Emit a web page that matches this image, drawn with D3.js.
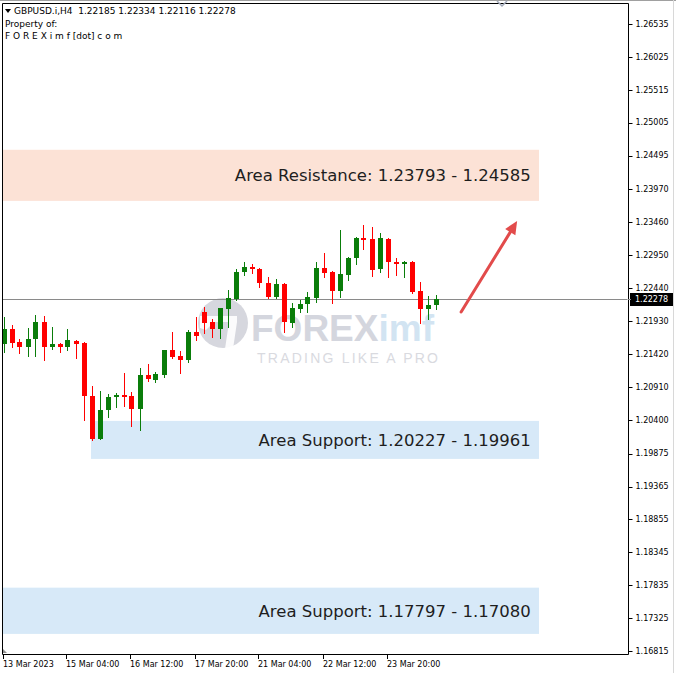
<!DOCTYPE html>
<html><head><meta charset="utf-8">
<script src="https://cdn.jsdelivr.net/npm/d3@7"></script>
<style>html,body{margin:0;padding:0;background:#fff;overflow:hidden}svg{display:block}</style>
</head><body><svg id="c" width="676" height="673"></svg>
<script>
// ---- data ----
const opens  = [1.21575,1.21808,1.21606,1.21529,1.21653,1.21916,1.21529,1.21575,1.21529,1.21622,1.21591,1.20769,1.20103,1.20552,1.20754,1.20785,1.20769,1.20568,1.21095,1.21017,1.21095,1.21482,1.21389,1.21327,1.21761,1.22071,1.21916,1.21808,1.22118,1.22273,1.22691,1.22769,1.22738,1.22521,1.22304,1.22505,1.21901,1.22118,1.22195,1.22288,1.22753,1.22691,1.22397,1.22645,1.22908,1.23218,1.23203,1.22738,1.23203,1.22846,1.22815,1.22846,1.22397,1.22118,1.22185];
const highs  = [1.21994,1.21870,1.21653,1.21823,1.22025,1.22009,1.21839,1.21591,1.21808,1.21637,1.21606,1.20924,1.20847,1.20800,1.20816,1.21126,1.20831,1.21203,1.21265,1.21141,1.21482,1.21761,1.21467,1.21792,1.21994,1.22149,1.21963,1.22133,1.22412,1.22738,1.22846,1.22815,1.22753,1.22614,1.22583,1.22521,1.22211,1.22257,1.22381,1.22846,1.22986,1.22707,1.23342,1.22924,1.23234,1.23420,1.23389,1.23296,1.23218,1.22908,1.22862,1.22862,1.22536,1.22319,1.22334];
const lows   = [1.21451,1.21529,1.21436,1.21389,1.21389,1.21327,1.21498,1.21451,1.21482,1.21358,1.20397,1.20087,1.20095,1.20444,1.20599,1.20614,1.20304,1.20242,1.21002,1.20986,1.21064,1.21358,1.21126,1.21296,1.21637,1.21746,1.21684,1.21668,1.21839,1.22257,1.22645,1.22676,1.22459,1.22288,1.22288,1.21761,1.21839,1.22071,1.22071,1.22226,1.22614,1.22211,1.22304,1.22567,1.22815,1.23048,1.22629,1.22691,1.22614,1.22645,1.22614,1.22366,1.21901,1.21963,1.22116];
const closes = [1.21808,1.21591,1.21529,1.21653,1.21916,1.21529,1.21575,1.21529,1.21637,1.21575,1.20769,1.20103,1.20552,1.20754,1.20785,1.20754,1.20568,1.21095,1.21033,1.21110,1.21482,1.21374,1.21327,1.21761,1.21699,1.21901,1.21808,1.22133,1.22288,1.22691,1.22769,1.22738,1.22521,1.22304,1.22505,1.21916,1.22133,1.22195,1.22304,1.22753,1.22676,1.22397,1.22660,1.22908,1.23218,1.23187,1.22722,1.23218,1.22846,1.22815,1.22846,1.22381,1.22118,1.22180,1.22278];

const dateLabels   = ["13 Mar 2023","15 Mar 04:00","16 Mar 12:00","17 Mar 20:00","21 Mar 04:00","22 Mar 12:00","23 Mar 20:00"];
const dateLabelBar = [0,8,16,24,32,40,48];
const priceTicks = [1.26535,1.26025,1.25515,1.25005,1.24495,1.23970,1.23460,1.22950,1.22440,1.21930,1.21420,1.20910,1.20400,1.19875,1.19365,1.18855,1.18345,1.17835,1.17325,1.16815];
const lastPrice = 1.22278;

const zoneLabels = ["Area Resistance: 1.23793 - 1.24585","Area Support: 1.20227 - 1.19961","Area Support: 1.17797 - 1.17080"];
const zoneLow    = [1.23793,1.19793,1.17080];
const zoneHigh   = [1.24585,1.20382,1.17797];
const zoneFrom   = [-1,10.94,-1];
const zoneTo     = [66.94,66.94,66.94];
const zoneKind   = ["res","sup","sup"];

const arrowFrom = [57.2,1.22071];
const arrowTo   = [64.2,1.23480];

const headerLines = ["GBPUSD.i,H4  1.22185 1.22334 1.22116 1.22278","Property of:","F O R E X i m f [dot] c o m"];

// ---- layout ----
const svg = d3.select("#c");
const L=2, R=628, T=3, B=654;
const x = d3.scaleLinear().domain([0,78]).range([3.5,627.5]);
const y = d3.scaleLinear().domain([1.16815,1.26535]).range([651,24]);
const UP="#0a7d0a", DN="#ff0000";

svg.append("defs").append("clipPath").attr("id","pc")
  .append("rect").attr("x",L+0.5).attr("y",T+0.5).attr("width",R-L-1).attr("height",B-T-1);

// outer window edge
svg.append("line").attr("x1",0).attr("x2",676).attr("y1",0.5).attr("y2",0.5).attr("stroke","#a0a0a0");
svg.append("line").attr("x1",673.5).attr("x2",673.5).attr("y1",0).attr("y2",673).attr("stroke","#d8d8d8");

const plot = svg.append("g").attr("clip-path","url(#pc)");

// zones
const zones = zoneLabels.map((t,i)=>({t,lo:zoneLow[i],hi:zoneHigh[i],a:zoneFrom[i],b:zoneTo[i],k:zoneKind[i]}));
plot.selectAll("rect.zone").data(zones).join("rect").attr("class","zone")
  .attr("x",d=>Math.round(x(d.a)))
  .attr("width",d=>Math.round(x(d.b))-Math.round(x(d.a)))
  .attr("y",d=>y(d.hi)).attr("height",d=>y(d.lo)-y(d.hi))
  .attr("fill",d=>d.k==="res"?"#fce2d6":"#d7e9f8");
plot.selectAll("text.zone").data(zones).join("text").attr("class","zone")
  .attr("x",x(65.9)).attr("y",d=>(y(d.lo)+y(d.hi))/2)
  .attr("dy","0.36em").attr("text-anchor","end")
  .attr("font-family","DejaVu Sans").attr("font-size",16.5).attr("fill","#1e1e1e")
  .text(d=>d.t);

// watermark
const wm = plot.append("g");
wm.append("circle").attr("cx",223).attr("cy",323).attr("r",25).attr("fill","#d6d7de");
wm.append("path").attr("d","M200,316 L237,316 L237,322 L214,322 L206,330 L200,328 Z").attr("fill","#fff").attr("opacity",0.9);
wm.append("path").attr("d","M229,322 L237,322 L233,349 L225,349 Z").attr("fill","#fff").attr("opacity",0.9);
wm.append("text").attr("x",251).attr("y",341).attr("font-family","Liberation Sans").attr("font-weight","bold")
  .attr("font-size",37).attr("fill","#d4d6de").text("FOREX")
  .append("tspan").attr("fill","#d2e4f2").text("imf");
wm.append("text").attr("x",257).attr("y",363).attr("font-family","Liberation Sans")
  .attr("font-size",14).attr("fill","#d9dadf").attr("textLength",181).text("TRADING LIKE A PRO");

// current price line
plot.append("line").attr("x1",L).attr("x2",R).attr("y1",Math.round(y(lastPrice))+0.5).attr("y2",Math.round(y(lastPrice))+0.5)
  .attr("stroke","#8a8a8a").attr("stroke-width",1);

// candles
const bars = opens.map((o,i)=>({i,o,h:highs[i],l:lows[i],c:closes[i]}));
const g = plot.append("g");
g.selectAll("line.w").data(bars).join("line").attr("class","w")
  .attr("x1",d=>Math.round(x(d.i))+0.5).attr("x2",d=>Math.round(x(d.i))+0.5)
  .attr("y1",d=>Math.round(y(d.h))).attr("y2",d=>Math.round(y(d.l))+1)
  .attr("stroke",d=>d.c>=d.o?UP:DN).attr("stroke-width",1);
g.selectAll("rect.b").data(bars).join("rect").attr("class","b")
  .attr("x",d=>Math.round(x(d.i))-2).attr("width",5)
  .attr("y",d=>Math.round(y(Math.max(d.o,d.c))))
  .attr("height",d=>Math.max(1,Math.round(y(Math.min(d.o,d.c)))-Math.round(y(Math.max(d.o,d.c)))))
  .attr("fill",d=>d.c>=d.o?UP:DN);

// arrow
const ax1=x(arrowFrom[0]), ay1=y(arrowFrom[1]), ax2=x(arrowTo[0]), ay2=y(arrowTo[1]);
const ang=Math.atan2(ay2-ay1,ax2-ax1);
const hl=13, hw=6;
const bx=ax2-hl*Math.cos(ang), by=ay2-hl*Math.sin(ang);
plot.append("line").attr("x1",ax1).attr("y1",ay1).attr("x2",bx).attr("y2",by)
  .attr("stroke","#e24b4b").attr("stroke-width",3).attr("stroke-linecap","round");
plot.append("path").attr("d",`M${ax2},${ay2} L${bx+hw*Math.sin(ang)},${by-hw*Math.cos(ang)} L${bx-hw*Math.sin(ang)},${by+hw*Math.cos(ang)} Z`)
  .attr("fill","#e24b4b");

// frame
svg.append("path").attr("d",`M${L+0.5},${T+0.5} H${R+0.5} V${B+0.5} H${L+0.5} Z`).attr("fill","none").attr("stroke","#000");

// right axis
const ya = svg.append("g").attr("transform",`translate(${R+0.5},0)`);
ya.selectAll("line").data(priceTicks).join("line")
  .attr("x1",0).attr("x2",4).attr("y1",d=>Math.round(y(d))+0.5).attr("y2",d=>Math.round(y(d))+0.5).attr("stroke","#000");
ya.selectAll("text").data(priceTicks).join("text")
  .attr("x",7).attr("y",d=>y(d)).attr("dy","0.35em")
  .attr("font-family","DejaVu Sans").attr("font-size",8).attr("fill","#000")
  .text(d=>d.toFixed(5));
// current price label
const ly=Math.round(y(lastPrice));
svg.append("rect").attr("x",R+2).attr("y",ly-6).attr("width",43).attr("height",13).attr("fill","#000");
svg.append("line").attr("x1",R).attr("x2",R+3).attr("y1",ly+0.5).attr("y2",ly+0.5).attr("stroke","#8a8a8a");
svg.append("text").attr("x",R+7).attr("y",ly+0.5).attr("dy","0.35em")
  .attr("font-family","DejaVu Sans").attr("font-size",8).attr("fill","#fff").text(lastPrice.toFixed(5));

// bottom axis
const xa = svg.append("g");
xa.selectAll("line").data(dateLabelBar).join("line")
  .attr("x1",d=>Math.round(x(d))-0.5).attr("x2",d=>Math.round(x(d))-0.5).attr("y1",B).attr("y2",B+5).attr("stroke","#000");
xa.selectAll("text").data(dateLabelBar).join("text")
  .attr("x",d=>Math.round(x(d))-1).attr("y",B+10).attr("dy","0.35em")
  .attr("font-family","DejaVu Sans").attr("font-size",8).attr("fill","#000")
  .text((d,i)=>dateLabels[i]);
// small scroll marker bottom-left
svg.append("path").attr("d",`M${L+1},${B-1} L${L+1},${B-5} L${L+5},${B-1} Z`).attr("fill","#909090");
// top chevron
svg.append("path").attr("d","M497,1 L502,6 L507,1").attr("fill","none").attr("stroke","#a0a8b8").attr("stroke-width",1.5);

// header
svg.append("path").attr("d","M5,9 L11,9 L8,13 Z").attr("fill","#000");
svg.selectAll("text.hdr").data(headerLines).join("text").attr("class","hdr")
  .attr("x",(d,i)=>i===0?14:5).attr("y",(d,i)=>11+i*12.5).attr("dy","0.35em")
  .attr("font-family","DejaVu Sans").attr("font-size",9).attr("fill","#000")
  .attr("xml:space","preserve").style("white-space","pre")
  .text(d=>d);
</script></body></html>
